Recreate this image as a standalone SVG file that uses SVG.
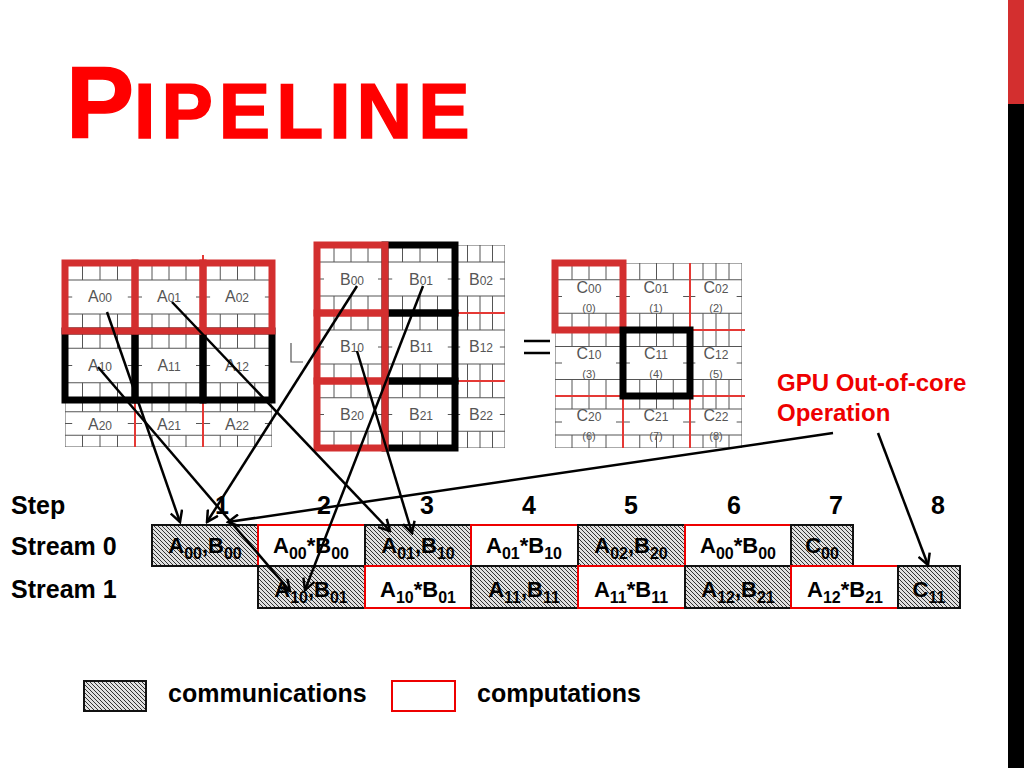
<svg xmlns="http://www.w3.org/2000/svg" xmlns:xlink="http://www.w3.org/1999/xlink" width="1024" height="768" viewBox="0 0 1024 768">
<style>
.g{stroke:#555;stroke-width:1;fill:none;vector-effect:non-scaling-stroke}
.ml{font-family:"Liberation Sans",Arial,sans-serif;font-size:16px;fill:#555;text-anchor:middle}
.ms{font-size:12px}
.mn{font-family:"Liberation Sans",Arial,sans-serif;font-size:11px;fill:#555;text-anchor:middle}
.rt{fill:none;stroke:#d32f2f;stroke-width:7}
.bt{fill:none;stroke:#000;stroke-width:7}
.rl{stroke:#e53935;stroke-width:2;fill:none}
.hd{font-family:"Liberation Sans",Arial,sans-serif;font-weight:bold;font-size:25px;fill:#000}
.tx{font-family:"Liberation Sans",Arial,sans-serif;font-weight:bold;font-size:22px;fill:#000;text-anchor:middle}
.comm{fill:url(#hatch);stroke:#111;stroke-width:2}
.comp{fill:#fff;stroke:#e00;stroke-width:2}
.ar{stroke:#000;stroke-width:2.5;fill:none;marker-end:url(#ah)}
</style>
<defs>
<pattern id="hatch" patternUnits="userSpaceOnUse" width="4" height="4">
<rect width="4" height="4" fill="#e0e0e0"/>
<path d="M0,0 L4,4 M-1,3 L1,5 M3,-1 L5,1" stroke="#333" stroke-width="1"/>
</pattern>
<symbol id="blk" viewBox="0 0 68 68" preserveAspectRatio="none">
<rect class="g" x="0" y="0" width="68" height="68"/>
<path class="g" d="M0,17 H68 M0,51 H68 M17,0 V17 M34,0 V17 M51,0 V17 M17,51 V68 M34,51 V68 M51,51 V68 M0,34 H7 M61,34 H68"/>
</symbol>
<marker id="ah" viewBox="0 0 14 14" refX="12" refY="7" markerWidth="14" markerHeight="14" orient="auto" markerUnits="userSpaceOnUse">
<path d="M1,1 L12,7 L1,13" fill="none" stroke="#000" stroke-width="2.5"/>
</marker>
</defs>
<rect width="1024" height="768" fill="#fff"/>

<g id="title">
<text x="66" y="138" font-family="Liberation Sans,Arial,sans-serif" font-weight="bold" fill="#f00" stroke="#f00" stroke-width="1.5"><tspan font-size="102">P</tspan><tspan font-size="77" letter-spacing="6">IPELINE</tspan></text>
</g>
<g id="sidebar">
<rect x="1008" y="0" width="16" height="104" fill="#d32f2f"/>
<rect x="1008" y="104" width="16" height="664" fill="#000"/>
</g>

<g id="matrixA">
<use xlink:href="#blk" x="65" y="263" width="70" height="68"/>
<use xlink:href="#blk" x="135" y="263" width="68" height="68"/>
<use xlink:href="#blk" x="203" y="263" width="69" height="68"/>
<use xlink:href="#blk" x="65" y="331" width="70" height="69"/>
<use xlink:href="#blk" x="135" y="331" width="68" height="69"/>
<use xlink:href="#blk" x="203" y="331" width="69" height="69"/>
<use xlink:href="#blk" x="65" y="400" width="70" height="47"/>
<use xlink:href="#blk" x="135" y="400" width="68" height="47"/>
<use xlink:href="#blk" x="203" y="400" width="69" height="47"/>
<path class="rl" d="M135,400 V447 M203,400 V447 M203,255 V263"/>
<rect class="bt" x="65" y="331" width="70" height="69"/>
<rect class="bt" x="135" y="331" width="68" height="69"/>
<rect class="bt" x="203" y="331" width="69" height="69"/>
<rect class="rt" x="65" y="263" width="70" height="68"/>
<rect class="rt" x="135" y="263" width="68" height="68"/>
<rect class="rt" x="203" y="263" width="69" height="68"/>
<text class="ml" x="100" y="302">A<tspan class="ms">00</tspan></text>
<text class="ml" x="169" y="302">A<tspan class="ms">01</tspan></text>
<text class="ml" x="237" y="302">A<tspan class="ms">02</tspan></text>
<text class="ml" x="100" y="371">A<tspan class="ms">10</tspan></text>
<text class="ml" x="169" y="371">A<tspan class="ms">11</tspan></text>
<text class="ml" x="237" y="371">A<tspan class="ms">12</tspan></text>
<text class="ml" x="100" y="430">A<tspan class="ms">20</tspan></text>
<text class="ml" x="169" y="430">A<tspan class="ms">21</tspan></text>
<text class="ml" x="237" y="430">A<tspan class="ms">22</tspan></text>
</g>

<g id="times">
<path d="M291,343 V362 H303" stroke="#555" stroke-width="1.2" fill="none"/>
</g>

<g id="matrixB">
<use xlink:href="#blk" x="317" y="245" width="68" height="68"/>
<use xlink:href="#blk" x="385" y="245" width="70" height="68"/>
<use xlink:href="#blk" x="455" y="245" width="50" height="68"/>
<use xlink:href="#blk" x="317" y="313" width="68" height="68"/>
<use xlink:href="#blk" x="385" y="313" width="70" height="68"/>
<use xlink:href="#blk" x="455" y="313" width="50" height="68"/>
<use xlink:href="#blk" x="317" y="381" width="68" height="67"/>
<use xlink:href="#blk" x="385" y="381" width="70" height="67"/>
<use xlink:href="#blk" x="455" y="381" width="50" height="67"/>
<path class="rl" d="M455,313 H505 M455,381 H505"/>
<rect class="bt" x="385" y="245" width="70" height="68"/>
<rect class="bt" x="385" y="313" width="70" height="68"/>
<rect class="bt" x="385" y="381" width="70" height="67"/>
<rect class="rt" x="317" y="245" width="68" height="68"/>
<rect class="rt" x="317" y="313" width="68" height="68"/>
<rect class="rt" x="317" y="381" width="68" height="67"/>
<text class="ml" x="352" y="285">B<tspan class="ms">00</tspan></text>
<text class="ml" x="421" y="285">B<tspan class="ms">01</tspan></text>
<text class="ml" x="481" y="285">B<tspan class="ms">02</tspan></text>
<text class="ml" x="352" y="352">B<tspan class="ms">10</tspan></text>
<text class="ml" x="421" y="352">B<tspan class="ms">11</tspan></text>
<text class="ml" x="481" y="352">B<tspan class="ms">12</tspan></text>
<text class="ml" x="352" y="420">B<tspan class="ms">20</tspan></text>
<text class="ml" x="421" y="420">B<tspan class="ms">21</tspan></text>
<text class="ml" x="481" y="420">B<tspan class="ms">22</tspan></text>
</g>

<g id="equals">
<path d="M524,341 H550 M524,353 H550" stroke="#000" stroke-width="2.5"/>
</g>

<g id="matrixC">
<use xlink:href="#blk" x="555" y="263" width="68" height="67"/>
<use xlink:href="#blk" x="623" y="263" width="67" height="67"/>
<use xlink:href="#blk" x="690" y="263" width="52" height="67"/>
<use xlink:href="#blk" x="555" y="330" width="68" height="66"/>
<use xlink:href="#blk" x="623" y="330" width="67" height="66"/>
<use xlink:href="#blk" x="690" y="330" width="52" height="66"/>
<use xlink:href="#blk" x="555" y="396" width="68" height="52"/>
<use xlink:href="#blk" x="623" y="396" width="67" height="52"/>
<use xlink:href="#blk" x="690" y="396" width="52" height="52"/>
<path class="rl" d="M690,263 V448 M690,330 H745 M555,396 H745 M623,396 V448"/>
<rect class="rt" x="555" y="263" width="68" height="67"/>
<rect class="bt" x="623" y="330" width="67" height="66"/>
<text class="ml" x="589" y="293">C<tspan class="ms">00</tspan></text>
<text class="mn" x="589" y="312">(0)</text>
<text class="ml" x="656" y="293">C<tspan class="ms">01</tspan></text>
<text class="mn" x="656" y="312">(1)</text>
<text class="ml" x="716" y="293">C<tspan class="ms">02</tspan></text>
<text class="mn" x="716" y="312">(2)</text>
<text class="ml" x="589" y="359">C<tspan class="ms">10</tspan></text>
<text class="mn" x="589" y="378">(3)</text>
<text class="ml" x="656" y="359">C<tspan class="ms">11</tspan></text>
<text class="mn" x="656" y="378">(4)</text>
<text class="ml" x="716" y="359">C<tspan class="ms">12</tspan></text>
<text class="mn" x="716" y="378">(5)</text>
<text class="ml" x="589" y="421">C<tspan class="ms">20</tspan></text>
<text class="mn" x="589" y="440">(6)</text>
<text class="ml" x="656" y="421">C<tspan class="ms">21</tspan></text>
<text class="mn" x="656" y="440">(7)</text>
<text class="ml" x="716" y="421">C<tspan class="ms">22</tspan></text>
<text class="mn" x="716" y="440">(8)</text>
</g>

<g id="gpu-label">
<text x="777" y="391" font-family="Liberation Sans,Arial,sans-serif" font-weight="bold" font-size="24" fill="#e00">GPU Out-of-core</text>
<text x="777" y="421" font-family="Liberation Sans,Arial,sans-serif" font-weight="bold" font-size="24" fill="#e00">Operation</text>
</g>

<g id="headers">
<text class="hd" x="11" y="514">Step</text>
<text class="hd" x="222" y="514" text-anchor="middle">1</text>
<text class="hd" x="324" y="514" text-anchor="middle">2</text>
<text class="hd" x="427" y="514" text-anchor="middle">3</text>
<text class="hd" x="529" y="514" text-anchor="middle">4</text>
<text class="hd" x="631" y="514" text-anchor="middle">5</text>
<text class="hd" x="734" y="514" text-anchor="middle">6</text>
<text class="hd" x="836" y="514" text-anchor="middle">7</text>
<text class="hd" x="938" y="514" text-anchor="middle">8</text>
<text class="hd" x="11" y="555">Stream 0</text>
<text class="hd" x="11" y="598">Stream 1</text>
</g>

<g id="stream0">
<g id="s0-1"><rect class="comm" x="152" y="525" width="106" height="41"/><text class="tx" x="205" y="553">A<tspan dy="6" font-size="16">00</tspan><tspan dy="-6">,B</tspan><tspan dy="6" font-size="16">00</tspan></text></g>
<g id="s0-2"><rect class="comp" x="258" y="525" width="107" height="41"/><text class="tx" x="311" y="553">A<tspan dy="6" font-size="16">00</tspan><tspan dy="-6">*B</tspan><tspan dy="6" font-size="16">00</tspan></text></g>
<g id="s0-3"><rect class="comm" x="365" y="525" width="106" height="41"/><text class="tx" x="418" y="553">A<tspan dy="6" font-size="16">01</tspan><tspan dy="-6">,B</tspan><tspan dy="6" font-size="16">10</tspan></text></g>
<g id="s0-4"><rect class="comp" x="471" y="525" width="107" height="41"/><text class="tx" x="524" y="553">A<tspan dy="6" font-size="16">01</tspan><tspan dy="-6">*B</tspan><tspan dy="6" font-size="16">10</tspan></text></g>
<g id="s0-5"><rect class="comm" x="578" y="525" width="107" height="41"/><text class="tx" x="631" y="553">A<tspan dy="6" font-size="16">02</tspan><tspan dy="-6">,B</tspan><tspan dy="6" font-size="16">20</tspan></text></g>
<g id="s0-6"><rect class="comp" x="685" y="525" width="106" height="41"/><text class="tx" x="738" y="553">A<tspan dy="6" font-size="16">00</tspan><tspan dy="-6">*B</tspan><tspan dy="6" font-size="16">00</tspan></text></g>
<g id="s0-7"><rect class="comm" x="791" y="525" width="62" height="41"/><text class="tx" x="822" y="553">C<tspan dy="6" font-size="16">00</tspan></text></g>
</g>

<g id="stream1">
<g id="s1-2"><rect class="comm" x="258" y="566" width="107" height="42"/><text class="tx" x="311" y="597">A<tspan dy="6" font-size="16">10</tspan><tspan dy="-6">,B</tspan><tspan dy="6" font-size="16">01</tspan></text></g>
<g id="s1-3"><rect class="comp" x="365" y="566" width="106" height="42"/><text class="tx" x="418" y="597">A<tspan dy="6" font-size="16">10</tspan><tspan dy="-6">*B</tspan><tspan dy="6" font-size="16">01</tspan></text></g>
<g id="s1-4"><rect class="comm" x="471" y="566" width="107" height="42"/><text class="tx" x="524" y="597">A<tspan dy="6" font-size="16">11</tspan><tspan dy="-6">,B</tspan><tspan dy="6" font-size="16">11</tspan></text></g>
<g id="s1-5"><rect class="comp" x="578" y="566" width="107" height="42"/><text class="tx" x="631" y="597">A<tspan dy="6" font-size="16">11</tspan><tspan dy="-6">*B</tspan><tspan dy="6" font-size="16">11</tspan></text></g>
<g id="s1-6"><rect class="comm" x="685" y="566" width="106" height="42"/><text class="tx" x="738" y="597">A<tspan dy="6" font-size="16">12</tspan><tspan dy="-6">,B</tspan><tspan dy="6" font-size="16">21</tspan></text></g>
<g id="s1-7"><rect class="comp" x="791" y="566" width="107" height="42"/><text class="tx" x="845" y="597">A<tspan dy="6" font-size="16">12</tspan><tspan dy="-6">*B</tspan><tspan dy="6" font-size="16">21</tspan></text></g>
<g id="s1-8"><rect class="comm" x="898" y="566" width="62" height="42"/><text class="tx" x="929" y="597">C<tspan dy="6" font-size="16">11</tspan></text></g>
</g>

<g id="connectors">
<line class="ar" x1="107" y1="312" x2="180" y2="522"/>
<line class="ar" x1="357" y1="286" x2="207" y2="522"/>
<line class="ar" x1="98" y1="367" x2="290" y2="591"/>
<line class="ar" x1="172" y1="302" x2="390" y2="531"/>
<line class="ar" x1="357" y1="351" x2="412" y2="533"/>
<line class="ar" x1="423" y1="286" x2="305" y2="590"/>
<line class="ar" x1="833" y1="433" x2="228" y2="522"/>
<line class="ar" x1="878" y1="433" x2="928" y2="565"/>
</g>

<g id="legend">
<rect class="comm" x="84" y="681" width="62" height="30"/>
<text class="hd" x="168" y="702">communications</text>
<rect class="comp" x="392" y="681" width="63" height="30"/>
<text class="hd" x="477" y="702">computations</text>
</g>
</svg>
